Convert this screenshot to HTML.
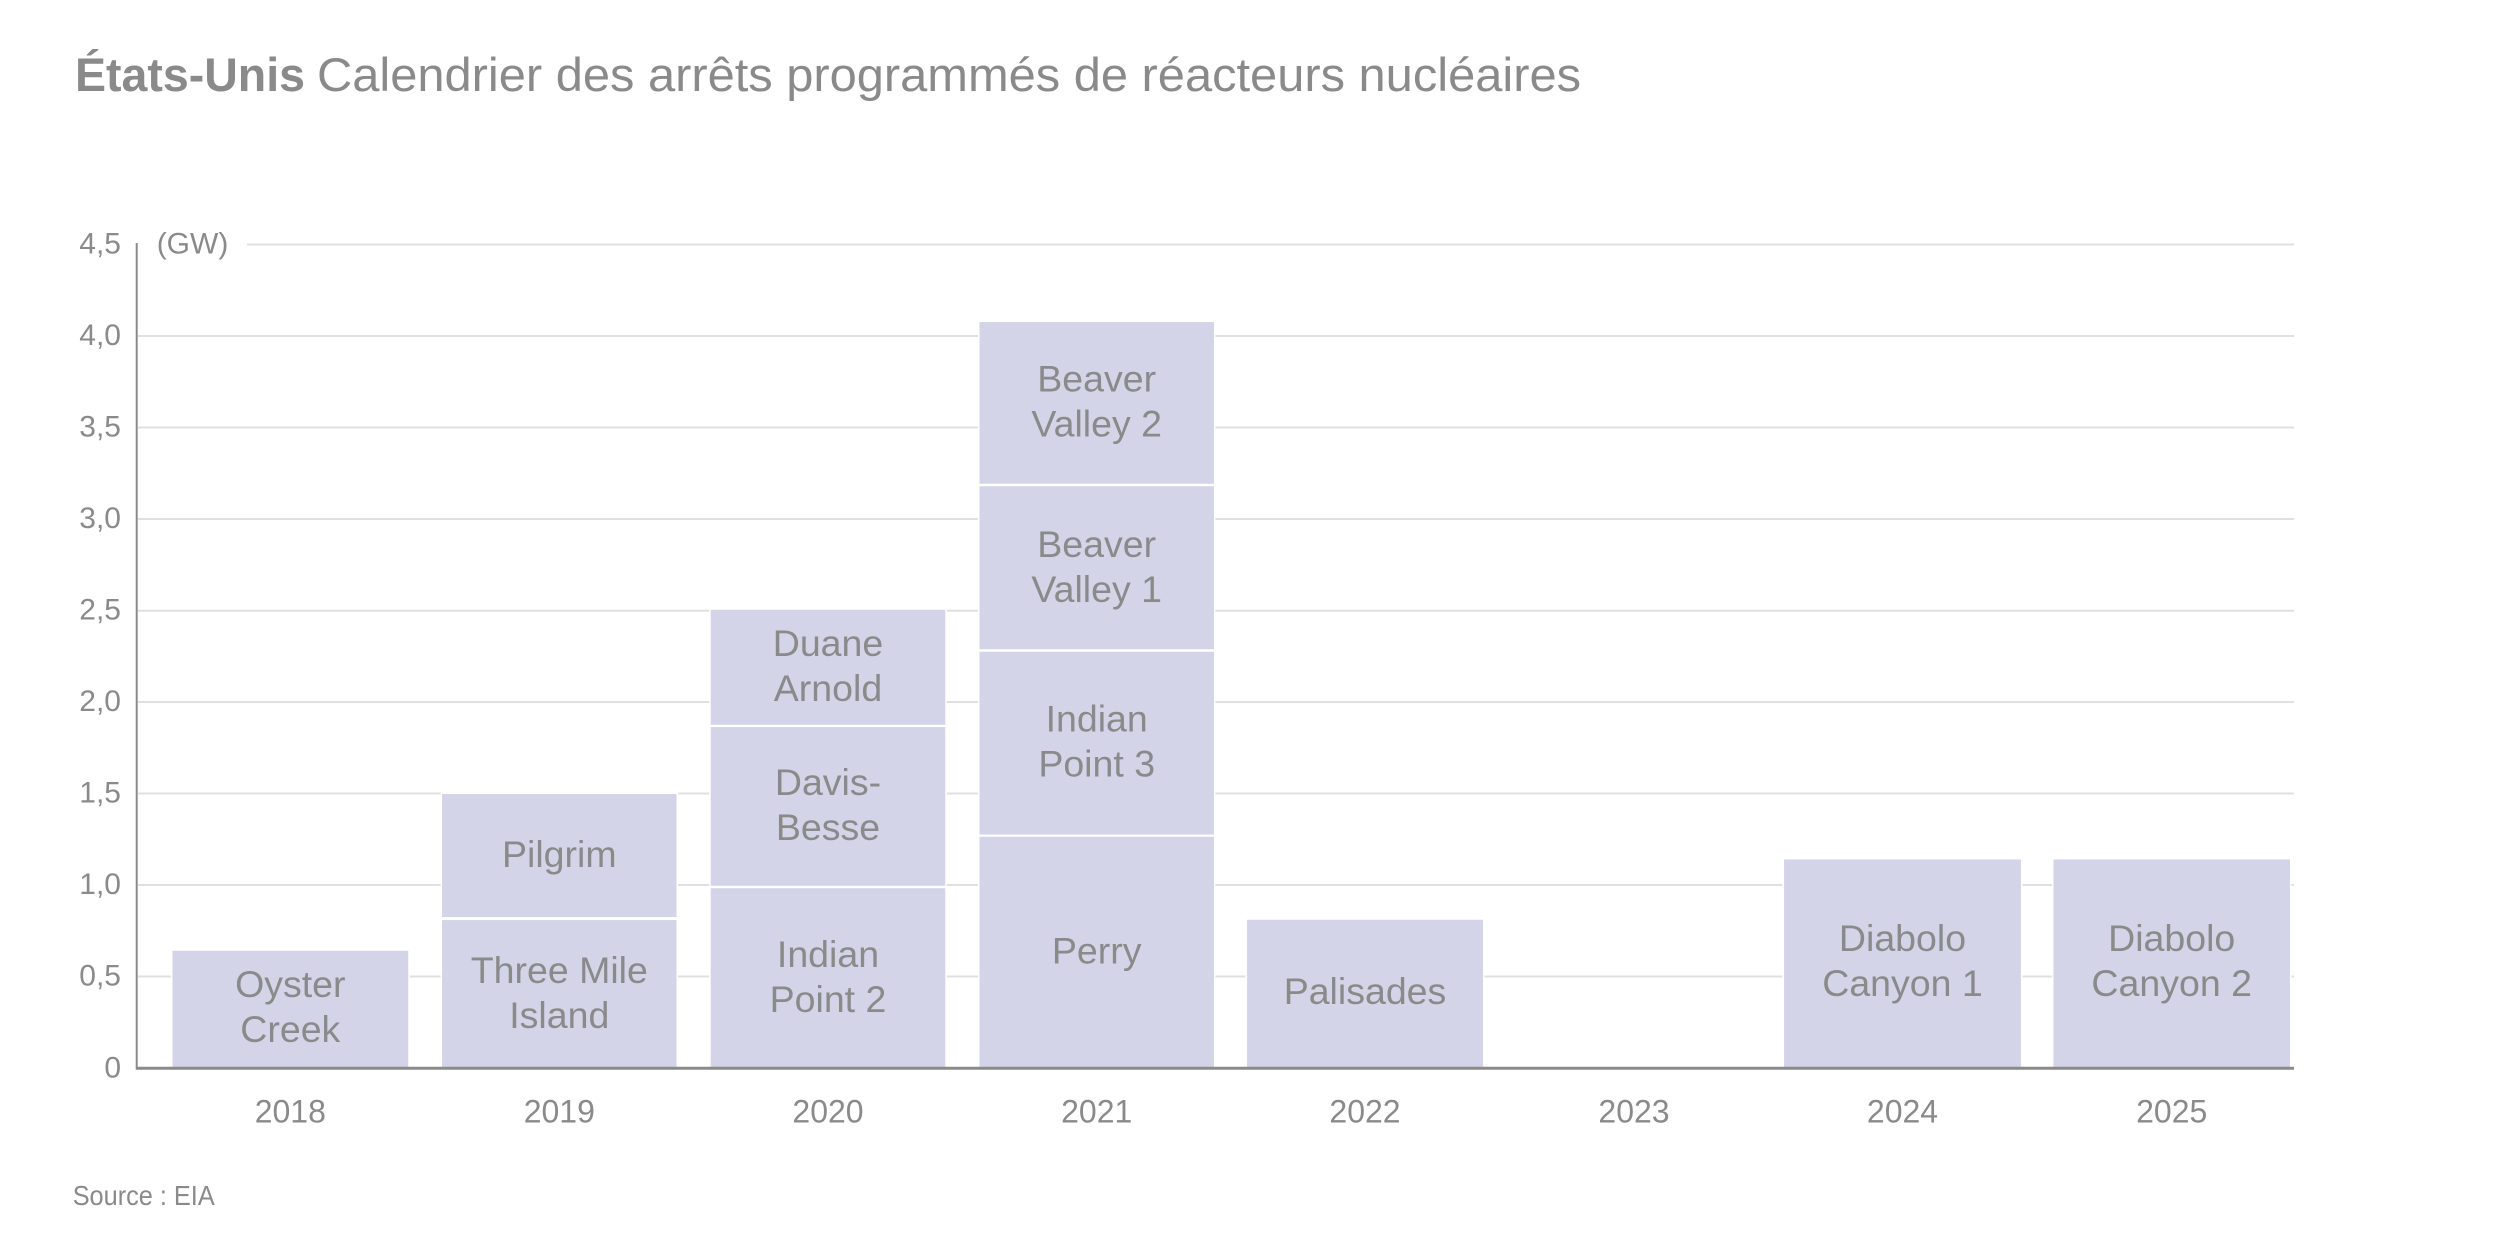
<!DOCTYPE html>
<html>
<head>
<meta charset="utf-8">
<style>
  html, body { margin: 0; padding: 0; background: #ffffff; }
  body { width: 2500px; height: 1250px; overflow: hidden; }
  svg { display: block; }
  text { font-family: "Liberation Sans", "DejaVu Sans", sans-serif; fill: #8a8a8a; }
</style>
</head>
<body>
<svg width="2500" height="1250" viewBox="0 0 2500 1250" xmlns="http://www.w3.org/2000/svg">
  <rect x="0" y="0" width="2500" height="1250" fill="#ffffff"/>

  <!-- Title -->
  <text x="75" y="91" font-size="47" font-weight="bold" fill="#88898b" textLength="230" lengthAdjust="spacingAndGlyphs">États-Unis</text>
  <text x="317" y="91" font-size="47" fill="#a2a2a2" textLength="1264" lengthAdjust="spacingAndGlyphs">Calendrier des arrêts programmés de réacteurs nucléaires</text>

  <!-- Gridlines -->
  <g stroke="#e0e0e0" stroke-width="2">
    <line x1="247" y1="244.5" x2="2294" y2="244.5"/>
    <line x1="138" y1="336" x2="2294" y2="336"/>
    <line x1="138" y1="427.5" x2="2294" y2="427.5"/>
    <line x1="138" y1="519" x2="2294" y2="519"/>
    <line x1="138" y1="610.7" x2="2294" y2="610.7"/>
    <line x1="138" y1="702" x2="2294" y2="702"/>
    <line x1="138" y1="793.5" x2="2294" y2="793.5"/>
    <line x1="138" y1="885" x2="2294" y2="885"/>
    <line x1="138" y1="976.5" x2="2294" y2="976.5"/>
  </g>

  <!-- Y labels -->
  <g font-size="30" text-anchor="end">
    <text x="121" y="253.5">4,5</text>
    <text x="121" y="345">4,0</text>
    <text x="121" y="436.5">3,5</text>
    <text x="121" y="528">3,0</text>
    <text x="121" y="619.7">2,5</text>
    <text x="121" y="711">2,0</text>
    <text x="121" y="802.5">1,5</text>
    <text x="121" y="894">1,0</text>
    <text x="121" y="985.5">0,5</text>
    <text x="121" y="1077.3">0</text>
  </g>
  <text x="156.7" y="253.5" font-size="30">(GW)</text>

  <!-- Bars -->
  <g fill="#d3d4e8" stroke="#ffffff" stroke-width="1.5">
    <rect x="171.7" y="950" width="237.3" height="118"/>
    <rect x="441.3" y="919.3" width="236" height="148.7"/>
    <rect x="441.3" y="793.3" width="236" height="124.5"/>
    <rect x="710" y="887.5" width="236" height="180.5"/>
    <rect x="710" y="726.3" width="236" height="160.2"/>
    <rect x="710" y="609" width="236" height="116.5"/>
    <rect x="978.7" y="836" width="236" height="232"/>
    <rect x="978.7" y="651" width="236" height="184.3"/>
    <rect x="978.7" y="485.5" width="236" height="164.5"/>
    <rect x="978.7" y="321.3" width="236" height="163.2"/>
    <rect x="1246.3" y="919" width="237.5" height="149"/>
    <rect x="1783.3" y="858.7" width="238.4" height="209.3"/>
    <rect x="2052.7" y="858.7" width="238" height="209.3"/>
  </g>

  <!-- Axes -->
  <line x1="136.7" y1="243" x2="136.7" y2="1069.5" stroke="#8a8a8a" stroke-width="2"/>
  <line x1="136" y1="1068.3" x2="2294" y2="1068.3" stroke="#8a8a8a" stroke-width="3"/>

  <!-- Bar labels -->
  <g font-size="37.5" text-anchor="middle" fill="#8a8a8a">
    <text x="290.3" y="997">Oyster</text>
    <text x="290.3" y="1042">Creek</text>

    <text x="559.3" y="867">Pilgrim</text>
    <text x="559.3" y="983">Three Mile</text>
    <text x="559.3" y="1028">Island</text>

    <text x="828" y="656">Duane</text>
    <text x="828" y="701">Arnold</text>
    <text x="828" y="795">Davis-</text>
    <text x="828" y="840">Besse</text>
    <text x="828" y="967">Indian</text>
    <text x="828" y="1012">Point 2</text>

    <text x="1096.7" y="391.7">Beaver</text>
    <text x="1096.7" y="436.7">Valley 2</text>
    <text x="1096.7" y="556.8">Beaver</text>
    <text x="1096.7" y="601.8">Valley 1</text>
    <text x="1096.7" y="731.7">Indian</text>
    <text x="1096.7" y="776.7">Point 3</text>
    <text x="1096.7" y="963.5">Perry</text>

    <text x="1365" y="1004">Palisades</text>

    <text x="1902.5" y="951">Diabolo</text>
    <text x="1902.5" y="996">Canyon 1</text>

    <text x="2171.7" y="951">Diabolo</text>
    <text x="2171.7" y="996">Canyon 2</text>
  </g>

  <!-- X labels -->
  <g font-size="32" text-anchor="middle">
    <text x="290.3" y="1122.5">2018</text>
    <text x="559.3" y="1122.5">2019</text>
    <text x="828" y="1122.5">2020</text>
    <text x="1096.7" y="1122.5">2021</text>
    <text x="1365" y="1122.5">2022</text>
    <text x="1634" y="1122.5">2023</text>
    <text x="1902.5" y="1122.5">2024</text>
    <text x="2171.7" y="1122.5">2025</text>
  </g>

  <!-- Source -->
  <text x="72.7" y="1205" font-size="28" textLength="142" lengthAdjust="spacingAndGlyphs">Source : EIA</text>
</svg>
</body>
</html>
